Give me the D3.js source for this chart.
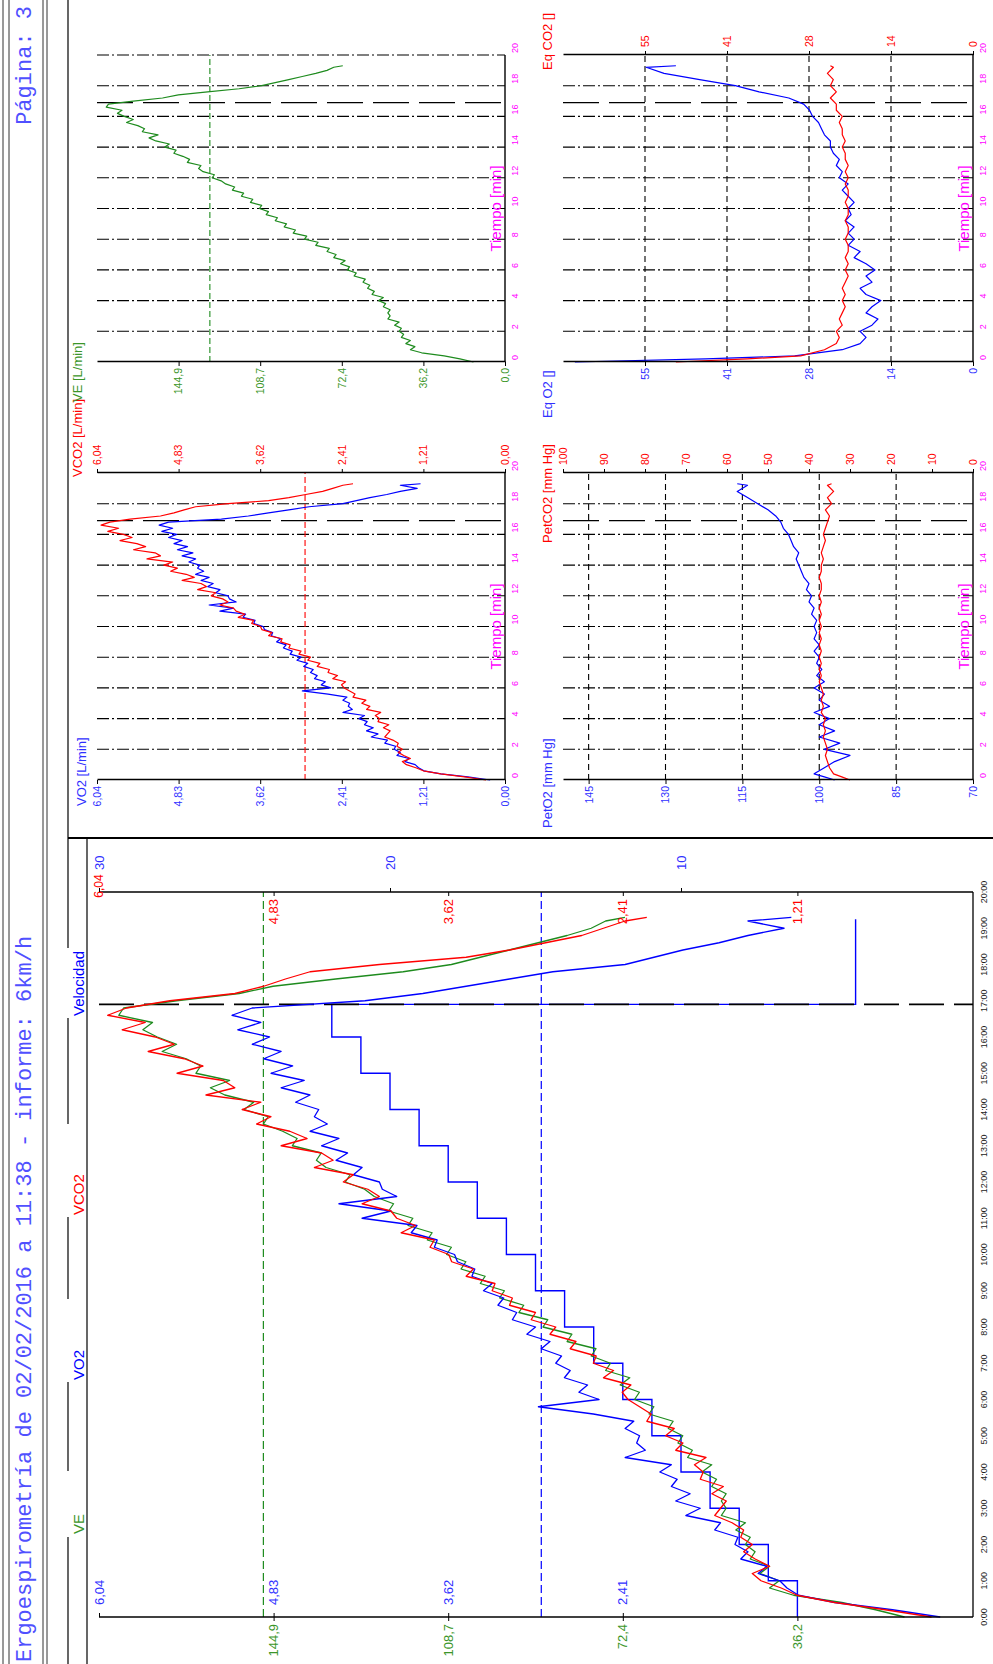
<!DOCTYPE html>
<html>
<head>
<meta charset="utf-8">
<script src="https://cdn.jsdelivr.net/npm/d3@7"></script>
<style>
  body { margin: 0; background: #fff; }
  text { font-family: "Liberation Sans", Arial, sans-serif; }
</style>
</head>
<body>
<svg></svg>
<script>
// ---------- data ----------
const minutes = [0,0.2,0.4,0.6,0.8,1,1.2,1.4,1.6,1.8,2,2.2,2.4,2.6,2.8,3,3.2,3.4,3.6,3.8,4,4.2,4.4,4.6,4.8,5,5.2,5.4,5.6,5.8,6,6.2,6.4,6.6,6.8,7,7.2,7.4,7.6,7.8,8,8.2,8.4,8.6,8.8,9,9.2,9.4,9.6,9.8,10,10.2,10.4,10.6,10.8,11,11.2,11.4,11.6,11.8,12,12.2,12.4,12.6,12.8,13,13.2,13.4,13.6,13.8,14,14.2,14.4,14.6,14.8,15,15.2,15.4,15.6,15.8,16,16.2,16.4,16.6,16.8,17,17.2,17.4,17.6,17.8,18,18.2,18.4,18.6,18.8,19,19.2,19.3];
const vo2 = [0.22,0.55,0.95,1.20,1.28,1.33,1.48,1.42,1.60,1.55,
  1.64,1.62,1.78,1.74,1.98,1.88,2.05,1.95,2.08,2.04,
  2.16,2.08,2.40,2.26,2.32,2.30,2.40,2.34,2.62,3.00,
  2.58,2.72,2.66,2.82,2.78,2.88,2.84,2.98,2.92,3.08,
  3.02,3.18,3.15,3.28,3.24,3.38,3.32,3.46,3.44,3.56,
  3.58,3.72,3.70,3.88,3.84,4.22,4.02,4.38,3.98,4.08,
  4.10,4.28,4.22,4.40,4.32,4.50,4.38,4.58,4.46,4.55,
  4.52,4.68,4.58,4.78,4.62,4.85,4.70,4.90,4.78,4.98,
  4.86,5.08,4.92,5.12,4.98,4.20,3.80,3.50,3.20,2.90,
  2.40,2.20,2.00,1.75,1.55,1.30,1.55,1.25];
const vco2 = [0.28,0.60,0.95,1.21,1.32,1.46,1.52,1.40,1.50,1.58,
  1.52,1.60,1.58,1.66,1.78,1.74,1.70,1.80,1.72,1.88,
  1.86,1.92,1.84,2.05,2.00,2.12,2.06,2.25,2.22,2.30,
  2.38,2.42,2.36,2.55,2.48,2.62,2.60,2.78,2.74,2.92,
  2.88,3.05,3.02,3.20,3.18,3.32,3.30,3.50,3.45,3.60,
  3.62,3.75,3.72,3.95,3.85,3.98,4.02,4.22,4.10,4.18,
  4.35,4.28,4.55,4.42,4.50,4.78,4.60,4.72,4.95,4.85,
  5.05,4.92,5.30,5.10,5.18,5.50,5.32,5.45,5.70,5.52,
  5.65,5.88,5.72,5.98,5.85,5.55,5.10,4.90,4.75,4.58,
  4.10,3.50,3.20,2.95,2.70,2.55,2.40,2.25];
const ve = [14,20,27,37,42,40,44,42,46,45,
  47,46,49,47,52,51,52,51,54,53,
  56,54,59,58,61,60,63,62,67,66,
  70,69,73,71,76,75,79,78,84,83,
  89,88,94,93,98,97,102,101,106,105,
  109,108,113,112,117,116,121,120,124,126,
  130,129,134,136,135,141,140,143,147,146,
  151,149,155,158,154,161,160,163,168,165,
  169,172,170,177,176,165,152,145,132,118,
  108,102,96,90,84,79,76,72];

const speedMinutes = [0,1,2,3,4,5,6,7,8,9,10,11,12,13,14,15,16,16.9,19.25];
const speedKmh = [6,7,8,9,10,11,12,13,14,15,16,17,18,19,20,21,22,4,4];

const gasMinutes = [0,0.2,0.4,0.8,1.2,1.6,2,2.4,2.8,3.2,3.6,4,4.4,4.8,5.2,5.6,6,6.4,6.8,7.2,7.6,8,8.4,8.8,9.2,9.6,10,10.4,10.8,11.2,11.6,12,12.4,12.8,13.2,13.6,14,14.4,14.8,15.2,15.6,16,16.4,16.8,17.2,17.6,18,18.4,18.8,19.2,19.3];
const eqO2 = [67,45,30,22,19,18,19,17,16,18,17,15.5,18,19,17,18,16.5,18,20,19,21,20,21,20,21.5,20.5,21,20,21,22,21,22.5,22,23,22.5,23.5,24,24,25,25.5,26,27,27.5,28.5,31,36,40,46,52,55,50];
const eqCO2 = [50,38,29,25,23,22.5,23,22,22.5,22,21.5,22,21.5,22,21.5,21,21.5,21,21.5,21,21,21.5,21,21,21.5,21,21,21.5,21,21,21.5,21,21.5,21,21.5,21.5,22,21.5,22,22,22.5,22,23,23,24,23,24,23.5,24.5,23.5,24];
const petO2 = [97,99,101,99,97,94,99,96,100,97,100,98,101,98,100,99,101,99,100.5,99.5,100.5,100,101,100,101,100.5,101,100.5,101.5,101,102,101.5,102.5,102,103,103.5,104,104.5,104,105,105.5,106,107,107.5,108.5,110,112,114,116,114,116];
const petCO2 = [30,32,34,35,35.5,36,35.5,36,36.5,36,36.5,36,37,36.5,37,36.5,37,37.5,37,37.5,37,37.5,37,37.5,37,37.5,37,37.5,37,37.5,37,37.5,37,37,37.5,37,37,36.5,37,36.5,36,36.5,36,35.5,35,36,34.5,35.5,34,35.5,34.5];

const timeTicks = [0,1,2,3,4,5,6,7,8,9,10,11,12,13,14,15,16,17,18,19,20];
const timeLabels = ["0:00","1:00","2:00","3:00","4:00","5:00","6:00","7:00","8:00","9:00","10:00","11:00","12:00","13:00","14:00","15:00","16:00","17:00","18:00","19:00","20:00"];
const minTicks = [0,2,4,6,8,10,12,14,16,18,20];
const vo2Ticks = [0,1.208,2.416,3.624,4.832,6.04];
const vo2Labels = ["0,00","1,21","2,41","3,62","4,83","6,04"];
const veTicks = [0,36.22,72.44,108.66,144.88];
const veLabels = ["0,0","36,2","72,4","108,7","144,9"];
const speedTicks = [10,20,30];
const petO2Ticks = [70,85,100,115,130,145];
const petCO2Ticks = [0,10,20,30,40,50,60,70,80,90,100];
const eqTicks = [0,13.8,27.6,41.4,55.2];
const eqLabels = ["0","14","28","41","55"];

const testEnd = 16.9;        // end of exercise, min
const refVO2 = 2.98;         // blue dashed, big chart
const refVE = 147;           // green dashed, big chart
const refVCO2Small = 2.96;   // red dashed, VO2/VCO2 panel
const refVESmall = 131;      // green dashed, VE panel

// ---------- setup ----------
const blue = "#0000ff", red = "#ff0000", green = "#1e8b1e", magenta = "#ff00ff";
const txtBlue = "#3030ff", txtGreen = "#3c962a";
const W = 1664;

const svg = d3.select("svg").attr("width", 993).attr("height", 1664);
svg.append("rect").attr("width", 993).attr("height", 1664).attr("fill", "#fff");
// the report is printed landscape: draw in landscape coords then turn it
const page = svg.append("g").attr("transform", "translate(0,1664) rotate(-90)");

function hline(g, x1, x2, y, stroke, w, dash) {
  return g.append("line").attr("x1", x1).attr("x2", x2).attr("y1", y).attr("y2", y)
    .attr("stroke", stroke || "#000").attr("stroke-width", w || 1).attr("stroke-dasharray", dash || null);
}
function vline(g, x, y1, y2, stroke, w, dash) {
  return g.append("line").attr("x1", x).attr("x2", x).attr("y1", y1).attr("y2", y2)
    .attr("stroke", stroke || "#000").attr("stroke-width", w || 1).attr("stroke-dasharray", dash || null);
}
function label(g, x, y, s, color, size, anchor) {
  return g.append("text").attr("x", x).attr("y", y).attr("fill", color)
    .attr("font-size", size).attr("text-anchor", anchor || "start").text(s);
}

// ---------- header ----------
const head = page.append("g");
[3, 9, 43, 47].forEach(y => hline(head, 0, W, y, "#333", 1));
label(head, 2, 31, "Ergoespirometría de 02/02/2016 a 11:38 - informe: 6km/h", "#5050ff", 22)
  .style("font-family", "'Liberation Mono', monospace");
label(head, 1658, 31, "Página: 3", "#5050ff", 22, "end").style("font-family", "'Liberation Mono', monospace");

// legend row
const legendNames = ["VE", "VO2", "VCO2", "Velocidad"];
const legendColors = [txtGreen, blue, red, blue];
const legendX = [130, 284, 449, 648];
[[0, 127], [193, 282], [365, 447], [540, 646], [716, W]].forEach(s => hline(head, s[0], s[1], 68, "#000", 1.2));
legendNames.forEach((n, i) => label(head, legendX[i], 84, n, legendColors[i], 15));

// frame lines
hline(head, 0, 826, 87, "#000", 1.2);
vline(head, 826, 68, 993, "#000", 2);

// ---------- big chart ----------
const big = page.append("g");
const bx = d3.scaleLinear().domain([0, 20]).range([47, 772]);
const by = d3.scaleLinear().domain([0, 6.04]).range([972, 99]);
const byVE = d3.scaleLinear().domain([0, 181.1]).range([972, 99]);
const bySpeed = d3.scaleLinear().domain([0, 30]).range([972, 99]);

hline(big, bx(0), bx(20), 973, "#000", 1.3);
hline(big, bx(0), bx(20), byVE(refVE), green, 1.2, "8,4");
hline(big, bx(0), bx(20), by(refVO2), blue, 1.2, "8,4");

const speedLine = d3.line().x((d, i) => bx(speedMinutes[i])).y(d => bySpeed(d)).curve(d3.curveStepAfter);
big.append("path").attr("d", speedLine(speedKmh)).attr("fill", "none").attr("stroke", blue).attr("stroke-width", 1.4);

vline(big, bx(testEnd), 99, 973, "#000", 1.6, "35,10");

function seriesPath(g, xs, ys, vals, color, w) {
  const line = d3.line().x((d, i) => xs(minutes[i])).y(d => ys(d));
  g.append("path").attr("d", line(vals)).attr("fill", "none").attr("stroke", color)
    .attr("stroke-width", w).attr("stroke-linejoin", "round");
}
seriesPath(big, bx, byVE, ve, green, 1.3);
seriesPath(big, bx, by, vo2, blue, 1.3);
seriesPath(big, bx, by, vco2, red, 1.3);

// left axis: VO2 inside, VE outside
const leftAxisIn = d3.axisRight(by).tickValues(vo2Ticks.slice(2)).tickFormat((d, i) => vo2Labels[i + 2])
  .tickSizeInner(4).tickSizeOuter(0).tickPadding(8);
const gL = big.append("g").attr("transform", `translate(${bx(0)},0)`).call(leftAxisIn);
gL.select(".domain").attr("d", "M0,99V973").attr("stroke-width", 1.3);
gL.selectAll("text").attr("fill", txtBlue).attr("font-size", 13).attr("font-family", "Liberation Sans");
const leftAxisOut = d3.axisLeft(byVE).tickValues(veTicks.slice(1)).tickFormat((d, i) => veLabels[i + 1])
  .tickSizeInner(4).tickSizeOuter(0).tickPadding(3);
const gL2 = big.append("g").attr("transform", `translate(${bx(0)},0)`).call(leftAxisOut);
gL2.select(".domain").remove();
gL2.selectAll("text").attr("fill", txtGreen).attr("font-size", 13).attr("font-family", "Liberation Sans");

// right axis: VCO2 inside, speed outside
const rightAxisIn = d3.axisLeft(by).tickValues(vo2Ticks.slice(1, 5)).tickFormat((d, i) => vo2Labels[i + 1])
  .tickSizeInner(4).tickSizeOuter(0).tickPadding(3);
const gR = big.append("g").attr("transform", `translate(${bx(20)},0)`).call(rightAxisIn);
gR.select(".domain").attr("d", "M0,99V973").attr("stroke-width", 1.3);
gR.selectAll("text").attr("fill", red).attr("font-size", 13).attr("font-family", "Liberation Sans");
label(big, bx(20) + 6, 103, vo2Labels[5], red, 12, "middle");
const rightAxisOut = d3.axisRight(bySpeed).tickValues(speedTicks).tickFormat(d3.format("d"))
  .tickSizeInner(4).tickSizeOuter(0).tickPadding(18);
const gR2 = big.append("g").attr("transform", `translate(${bx(20)},0)`).call(rightAxisOut);
gR2.select(".domain").remove();
gR2.selectAll("text").attr("fill", txtBlue).attr("font-size", 13).attr("font-family", "Liberation Sans");

// time labels below the chart
timeTicks.forEach((t, i) => label(big, bx(t), 987, timeLabels[i], "#222", 9, "middle"));

// ---------- small charts ----------
function smallChart(o) {
  const g = page.append("g");
  const x = d3.scaleLinear().domain([0, 20]).range([o.x0, o.x0 + 307]);
  const yL = d3.scaleLinear().domain(o.left.domain).range([o.yb, o.yt]);
  const yR = o.right ? d3.scaleLinear().domain(o.right.domain).range([o.yb, o.yt]) : null;

  if (o.valueGrid) o.left.ticks.slice(1).forEach(v => hline(g, x(0), x(20), yL(v), "#000", 1.1, "6,4"));
  minTicks.filter(t => t > 0 && (t < 20 || !yR)).forEach(t => vline(g, x(t), o.yt, o.yb, "#000", 1.1, "12,3,2,3"));
  if (o.ref) hline(g, x(0), x(20), o.ref.scale === "right" ? yR(o.ref.value) : yL(o.ref.value), o.ref.color, 1.1, "6,3");
  vline(g, x(testEnd), o.yt, o.yb, "#000", 1.4, "36,10");

  o.series.forEach(s => {
    const ys = s.scale === "right" ? yR : yL;
    const line = d3.line().x((d, i) => x(s.t[i])).y(d => ys(d));
    g.append("path").attr("d", line(s.values)).attr("fill", "none").attr("stroke", s.color)
      .attr("stroke-width", 1.2).attr("stroke-linejoin", "round");
  });

  // axes
  hline(g, x(0), x(20), o.yb, "#000", 1.4);
  const aL = d3.axisLeft(yL).tickValues(o.left.ticks).tickFormat((d, i) => o.left.labels[i])
    .tickSizeInner(4).tickSizeOuter(0).tickPadding(2);
  const gl = g.append("g").attr("transform", `translate(${x(0)},0)`).call(aL);
  gl.select(".domain").attr("stroke-width", 1.4);
  gl.selectAll("text").attr("fill", o.left.color).attr("font-size", 10.5).attr("font-family", "Liberation Sans");
  if (yR) {
    const aR = d3.axisRight(yR).tickValues(o.right.ticks).tickFormat((d, i) => o.right.labels[i])
      .tickSizeInner(4).tickSizeOuter(0).tickPadding(4);
    const gr = g.append("g").attr("transform", `translate(${x(20)},0)`).call(aR);
    gr.select(".domain").attr("stroke-width", 1.4);
    gr.selectAll("text").attr("fill", o.right.color).attr("font-size", 10.5).attr("font-family", "Liberation Sans");
  }
  minTicks.forEach(t => label(g, x(t) + 2, o.yb + 13, String(t), magenta, 9));
  label(g, x(10), o.yb - 4, "Tiempo [min]", magenta, 15, "middle");
  o.titles.forEach(tt => label(g, tt.x, tt.y, tt.text, tt.color, 13));
}

smallChart({
  x0: 884, yt: 97, yb: 505,
  left: { domain: [0, 6.04], ticks: vo2Ticks, labels: vo2Labels, color: txtBlue },
  right: { domain: [0, 6.04], ticks: vo2Ticks, labels: vo2Labels, color: red },
  ref: { value: refVCO2Small, scale: "right", color: red },
  series: [{ t: minutes, values: vo2, color: blue }, { t: minutes, values: vco2, color: red, scale: "right" }],
  titles: [{ x: 858, y: 86, text: "VO2 [L/min]", color: txtBlue }, { x: 1187, y: 82, text: "VCO2 [L/min]", color: red }]
});
smallChart({
  x0: 1302, yt: 97, yb: 505,
  left: { domain: [0, 181.1], ticks: veTicks, labels: veLabels, color: txtGreen },
  ref: { value: refVESmall, color: green },
  series: [{ t: minutes, values: ve, color: green }],
  titles: [{ x: 1262, y: 82, text: "VE [L/min]", color: txtGreen }]
});
smallChart({
  x0: 884, yt: 563, yb: 973, valueGrid: true,
  left: { domain: [70, 150], ticks: petO2Ticks, labels: petO2Ticks.map(String), color: txtBlue },
  right: { domain: [0, 100], ticks: petCO2Ticks, labels: petCO2Ticks.map(String), color: red },
  series: [{ t: gasMinutes, values: petO2, color: blue }, { t: gasMinutes, values: petCO2, color: red, scale: "right" }],
  titles: [{ x: 836, y: 552, text: "PetO2 [mm Hg]", color: txtBlue }, { x: 1121, y: 552, text: "PetCO2 [mm Hg]", color: red }]
});
smallChart({
  x0: 1302, yt: 563, yb: 973, valueGrid: true,
  left: { domain: [0, 69], ticks: eqTicks, labels: eqLabels, color: txtBlue },
  right: { domain: [0, 69], ticks: eqTicks, labels: eqLabels, color: red },
  series: [{ t: gasMinutes, values: eqO2, color: blue }, { t: gasMinutes, values: eqCO2, color: red, scale: "right" }],
  titles: [{ x: 1246, y: 552, text: "Eq O2 []", color: txtBlue }, { x: 1594, y: 552, text: "Eq CO2 []", color: red }]
});
</script>
</body>
</html>
